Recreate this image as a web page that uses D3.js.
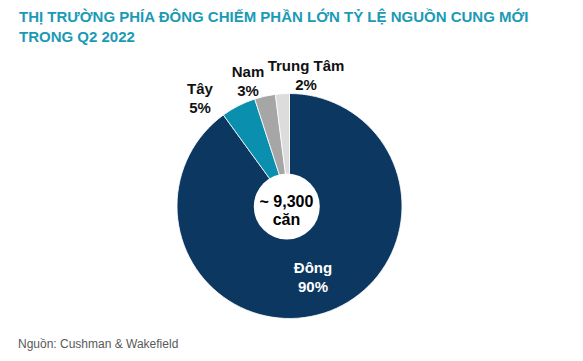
<!DOCTYPE html>
<html><head><meta charset="utf-8">
<script src="https://cdn.jsdelivr.net/npm/d3@7"></script>
<style>body{margin:0;background:#fff}svg{display:block}</style>
</head><body>
<svg id="c" width="583" height="361"></svg>
<script>
const categories = ["Đông", "Tây", "Nam", "Trung Tâm"];
const values = [90, 5, 3, 2];
const valueLabels = ["90%", "5%", "3%", "2%"];
const titleLines = ["THỊ TRƯỜNG PHÍA ĐÔNG CHIẾM PHẦN LỚN TỶ LỆ NGUỒN CUNG MỚI", "TRONG Q2 2022"];
const centerLines = ["~ 9,300", "căn"];
const sourceText = "Nguồn: Cushman & Wakefield";

const colors = {"Đông":"#0c3761","Tây":"#0b8fae","Nam":"#a6a6a6","Trung Tâm":"#dcdcdc"};
const labelLayout = {
  "Đông": {x:313, y:273, fill:"#fff"},
  "Tây": {x:200, y:94, fill:"#111"},
  "Nam": {x:248, y:77, fill:"#111"},
  "Trung Tâm": {x:306, y:71, fill:"#111"}
};

const svg = d3.select("#c");
const font = "'Liberation Sans', Arial, sans-serif";

const title = svg.append("text").attr("font-family", font).attr("font-weight","bold")
  .attr("font-size", 15).attr("fill", "#1b9ab6");
titleLines.forEach((t,i)=> title.append("tspan").attr("x",19).attr("y",22+i*19.5).text(t));

const cx = 289.5, cy = 206, R = 112.5;
const data = categories.map((c,i)=>({cat:c, v:values[i], lbl:valueLabels[i]}));
const pie = d3.pie().value(d=>d.v).sort(null).startAngle(0).endAngle(2*Math.PI);
const arc = d3.arc().innerRadius(0).outerRadius(R);
const g = svg.append("g").attr("transform",`translate(${cx},${cy})`);
g.selectAll("path").data(pie(data)).join("path")
  .attr("d", arc).attr("fill", d=>colors[d.data.cat])
  .attr("stroke","#fff").attr("stroke-width",0.8);

svg.append("circle").attr("cx",286.8).attr("cy",206.5).attr("r",33).attr("fill","#fff");

const ct = svg.append("text").attr("font-family",font).attr("font-weight","bold")
  .attr("font-size",16).attr("fill","#000").attr("text-anchor","middle");
centerLines.forEach((t,i)=> ct.append("tspan").attr("x",286.5).attr("y",207+i*18).text(t));

data.forEach(d=>{
  const L = labelLayout[d.cat];
  const t = svg.append("text").attr("font-family",font).attr("font-weight","bold")
    .attr("font-size",15).attr("fill",L.fill).attr("text-anchor","middle");
  t.append("tspan").attr("x",L.x).attr("y",L.y).text(d.cat);
  t.append("tspan").attr("x",L.x).attr("y",L.y+19).text(d.lbl);
});

svg.append("text").attr("x",18).attr("y",348).attr("font-family",font)
  .attr("font-size",12).attr("fill","#595959").text(sourceText);
</script>
</body></html>
